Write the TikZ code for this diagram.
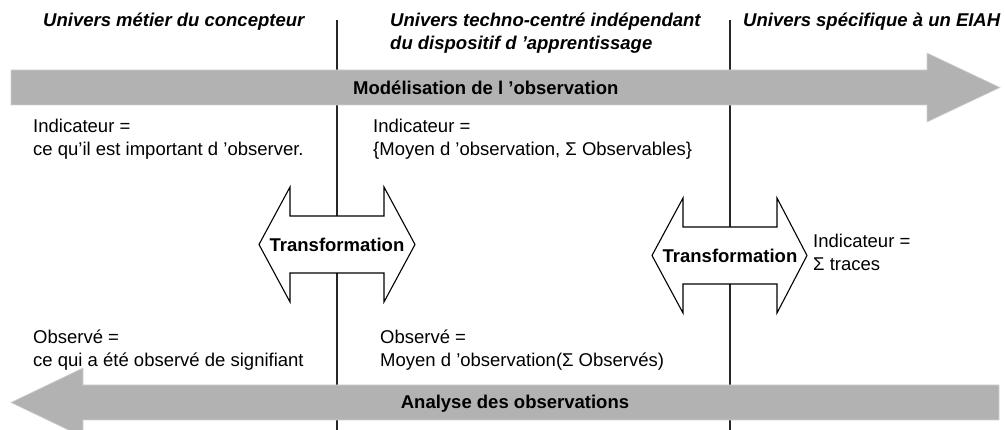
\documentclass[tikz,border=0pt]{standalone}
\usepackage{fontspec}
\setmainfont{Liberation Sans}
\begin{document}
\begin{tikzpicture}[x=1pt,y=-1pt,
  txt/.style={inner sep=0pt, anchor=base west, font=\fontsize{18.5}{23}\selectfont},
  btxt/.style={txt, font=\fontsize{18.5}{23}\selectfont\bfseries},
  ttl/.style={txt, font=\fontsize{18.5}{23}\selectfont\bfseries\itshape},
  band/.style={fill=black!30, draw=black!18, line width=0.6pt},
  sep/.style={draw=black!85, line width=1.4pt},
  xform/.style={draw=black, fill=white, line width=1.1pt, line join=miter}]
\useasboundingbox (0,0) rectangle (1005,430);
\clip (0,0) rectangle (1005,430);
% separators
\coordinate (s1t) at (337,20); \coordinate (s1b) at (337,432);
\coordinate (s2t) at (730,20); \coordinate (s2b) at (730,432);
\draw[sep] (s1t) -- (s1b);
\draw[sep] (s2t) -- (s2b);
% top band arrow
\draw[band] (11,70) -- (927,70) -- (927,53) -- (1000,87.5) -- (927,122) -- (927,105) -- (11,105) -- cycle;
% bottom band arrow
\draw[band] (999,385) -- (83,385) -- (83,368) -- (11,402.5) -- (83,437) -- (83,420) -- (999,420) -- cycle;
% transformation shapes
\draw[xform] (290,216) -- (290,187) -- (259,244.5) -- (290,302) -- (290,273) -- (384,273) -- (384,302) -- (415,244.5) -- (384,187) -- (384,216) -- cycle;
\draw[xform] (683,227) -- (683,198) -- (652,255.5) -- (683,313) -- (683,284) -- (777,284) -- (777,313) -- (807,255.5) -- (777,198) -- (777,227) -- cycle;
% texts
\node[ttl] (t1) at (43,27) {Univers métier du concepteur};
\node[ttl] (t2a) at (390,27) {Univers techno-centré indépendant};
\node[ttl] (t2b) at (390,50) {du dispositif d ’apprentissage};
\node[ttl] (t3) at (743,27) {Univers spécifique à un EIAH};
\node[btxt] (mod) at (353,95) {Modélisation de l ’observation};
\node[txt] (i1a) at (33,133) {Indicateur =};
\node[txt] (i1b) at (33,156) {ce qu’il est important d ’observer.};
\node[txt] (i2a) at (373,133) {Indicateur =};
\node[txt] (i2b) at (373,156) {\{Moyen d ’observation, Σ Observables\}};
\node[btxt, anchor=base] (tr1) at (337,252) {Transformation};
\node[btxt, anchor=base] (tr2) at (730,263) {Transformation};
\node[txt] (i3a) at (813,248) {Indicateur =};
\node[txt] (i3b) at (813,271) {Σ traces};
\node[txt] (o1a) at (33,344) {Observé =};
\node[txt] (o1b) at (33,367) {ce qui a été observé de signifiant};
\node[txt] (o2a) at (380,344) {Observé =};
\node[txt] (o2b) at (380,367) {Moyen d ’observation(Σ Observés)};
\node[btxt, anchor=base] (ana) at (515,409) {Analyse des observations};
\end{tikzpicture}
\end{document}
